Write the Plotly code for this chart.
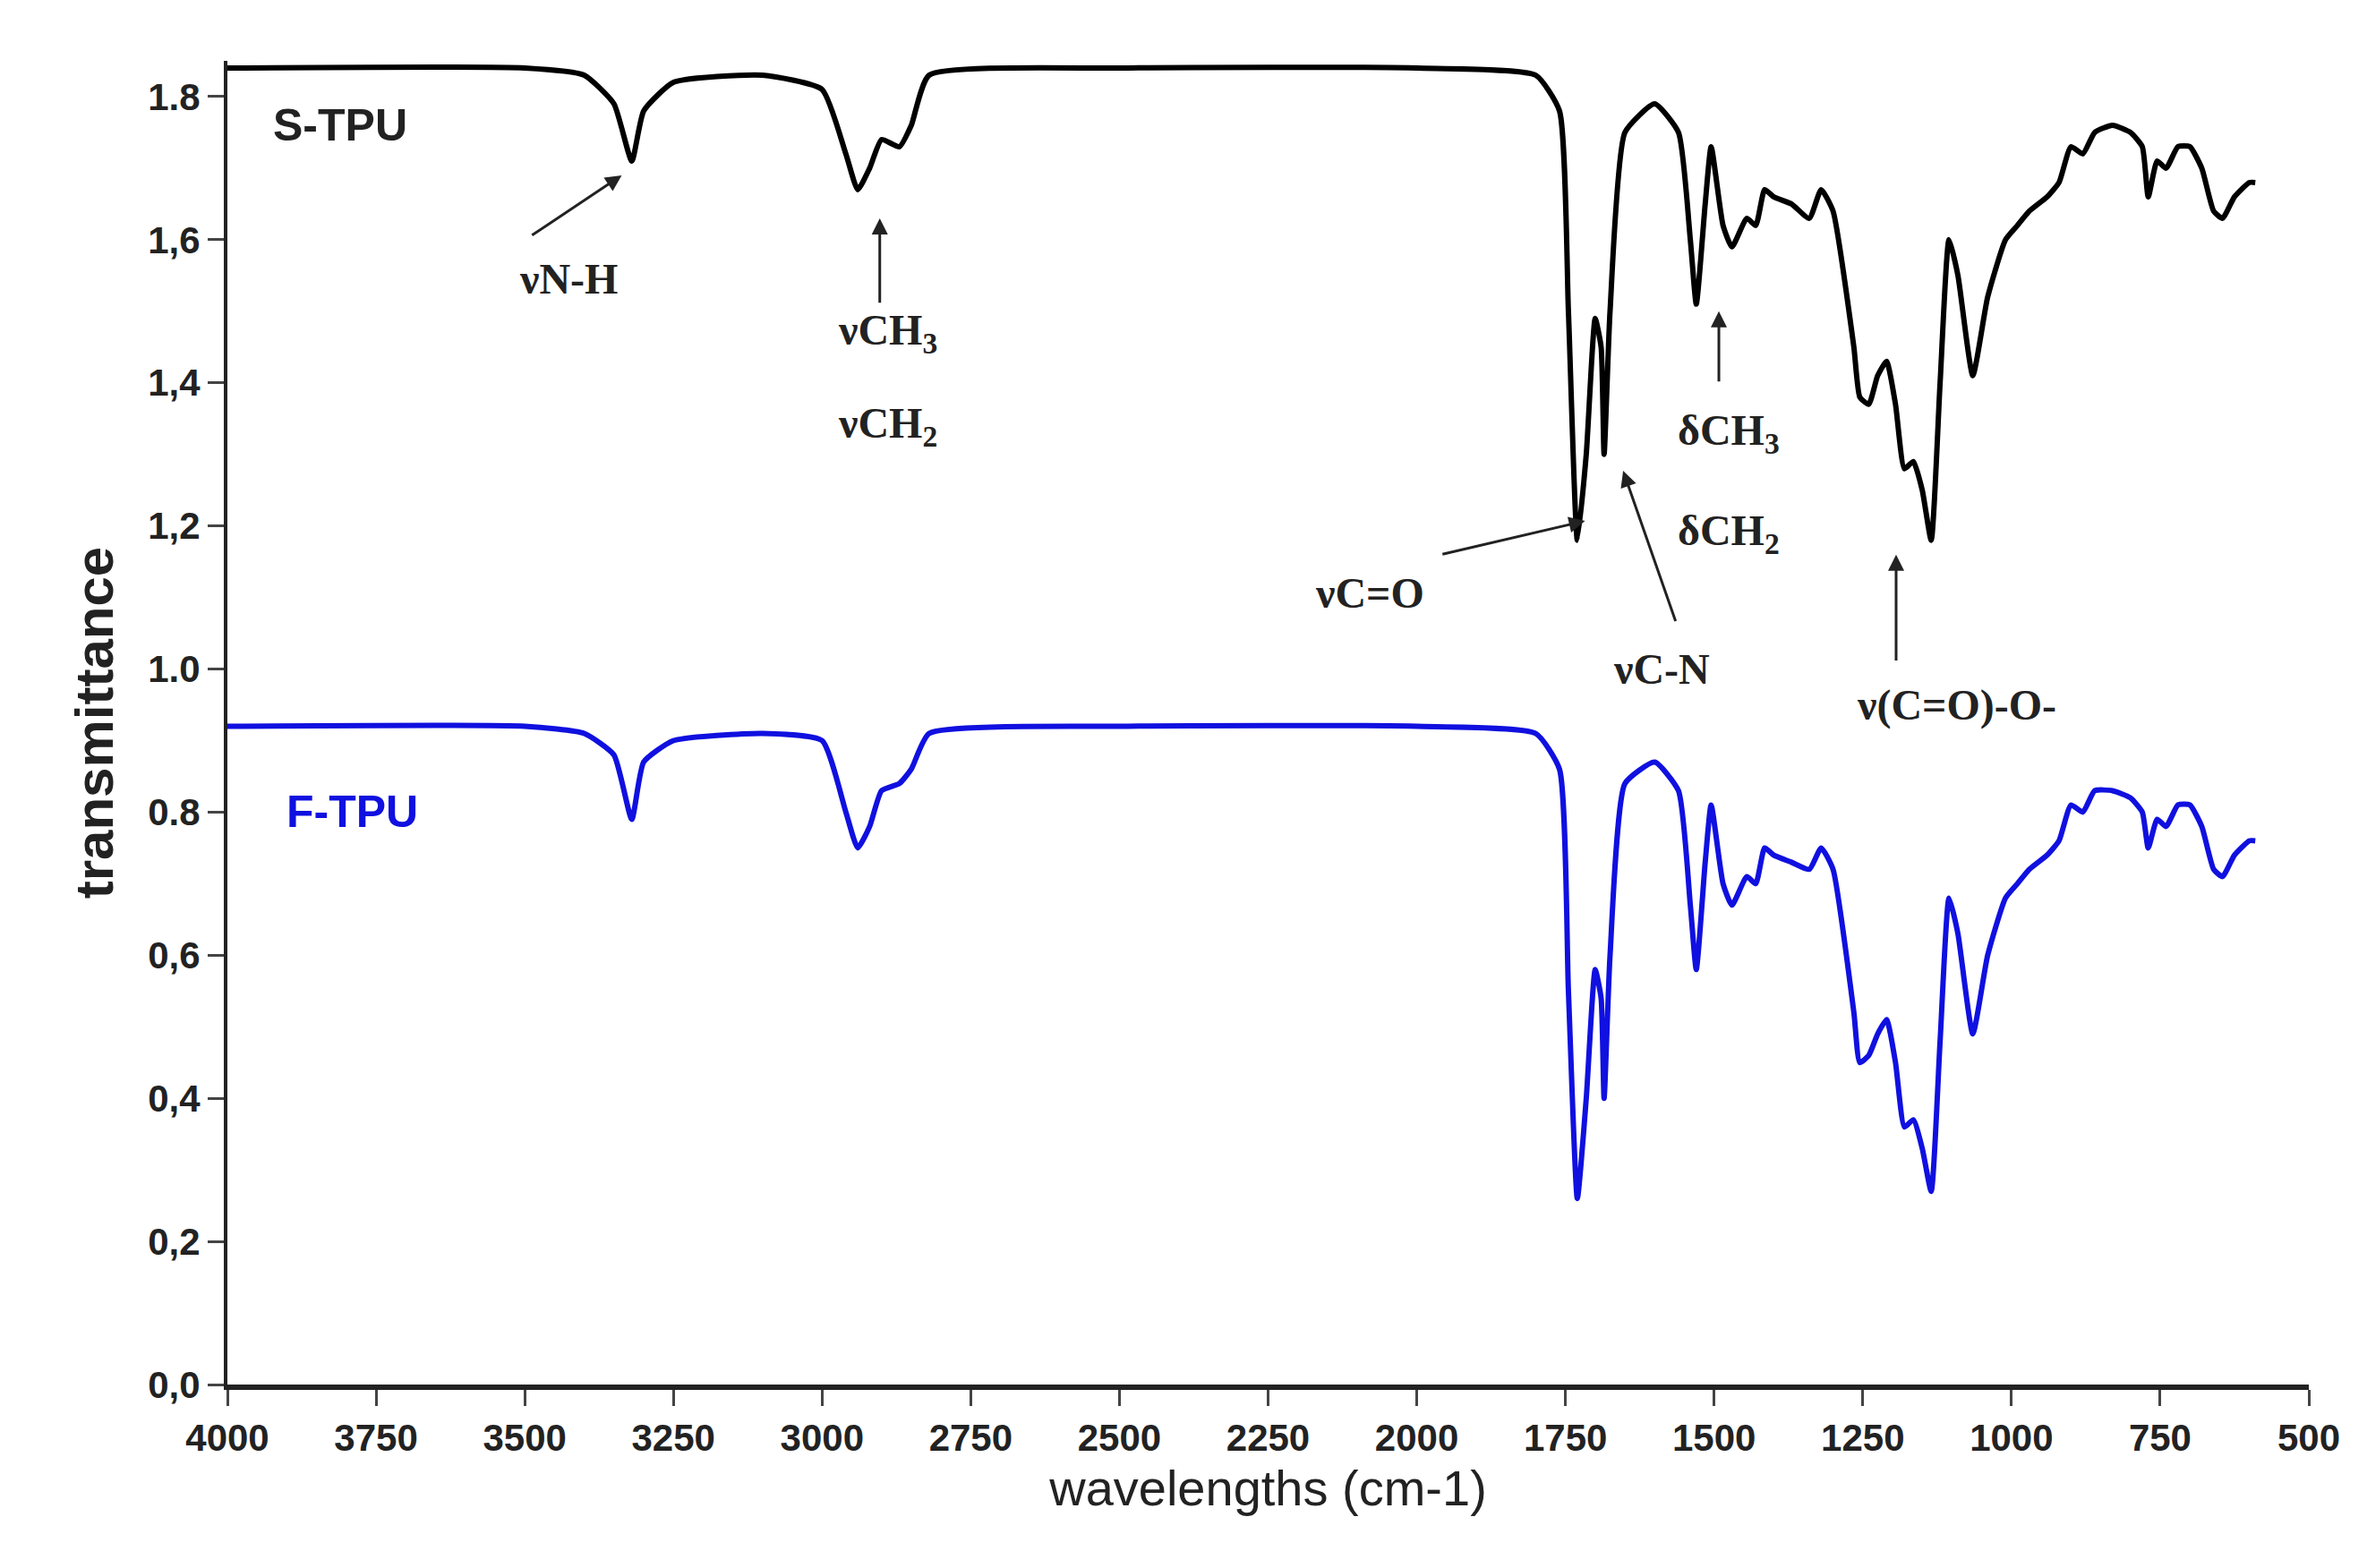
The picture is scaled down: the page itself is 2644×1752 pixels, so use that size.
import plotly.graph_objects as go

s_x = [4000,3500,3400,3350,3320,3300,3250,3100,3000,2960,2940,2920,2900,2870,2850,2820,2500,2000,1800,1760,1745,1730,1715,1700,1690,1685,1675,1650,1600,1560,1540,1530,1515,1505,1485,1470,1445,1430,1415,1400,1370,1340,1320,1300,1265,1255,1240,1225,1210,1195,1180,1165,1150,1135,1120,1105,1090,1065,1040,1010,990,970,940,920,900,880,860,830,800,780,770,755,740,720,700,680,660,645,625,600,590]
s_y = [1.84,1.84,1.83,1.79,1.71,1.78,1.82,1.83,1.81,1.72,1.67,1.70,1.74,1.73,1.76,1.83,1.84,1.84,1.83,1.78,1.50,1.18,1.30,1.49,1.45,1.30,1.50,1.75,1.79,1.75,1.60,1.51,1.65,1.73,1.62,1.59,1.63,1.62,1.67,1.66,1.65,1.63,1.67,1.64,1.45,1.38,1.37,1.41,1.43,1.37,1.28,1.29,1.25,1.18,1.40,1.60,1.55,1.41,1.52,1.60,1.62,1.64,1.66,1.68,1.73,1.72,1.75,1.76,1.75,1.73,1.66,1.71,1.70,1.73,1.73,1.70,1.64,1.63,1.66,1.68,1.68]

f_x = s_x
f_y = [0.92,0.92,0.91,0.88,0.79,0.87,0.90,0.91,0.90,0.80,0.75,0.78,0.83,0.84,0.86,0.91,0.92,0.92,0.91,0.86,0.55,0.26,0.40,0.58,0.54,0.40,0.60,0.84,0.87,0.83,0.67,0.58,0.73,0.81,0.70,0.67,0.71,0.70,0.75,0.74,0.73,0.72,0.75,0.72,0.52,0.45,0.46,0.49,0.51,0.45,0.36,0.37,0.33,0.27,0.48,0.68,0.63,0.49,0.60,0.68,0.70,0.72,0.74,0.76,0.81,0.80,0.83,0.83,0.82,0.80,0.75,0.79,0.78,0.81,0.81,0.78,0.72,0.71,0.74,0.76,0.76]

x_ticks = [4000,3750,3500,3250,3000,2750,2500,2250,2000,1750,1500,1250,1000,750,500]
y_ticks = [0.0,0.2,0.4,0.6,0.8,1.0,1.2,1.4,1.6,1.8]
y_labels = ["0,0","0,2","0,4","0,6","0.8","1.0","1,2","1,4","1,6","1.8"]

fig = go.Figure()
fig.add_trace(go.Scatter(x=s_x, y=s_y, mode="lines", line=dict(color="black", width=6, shape="spline", smoothing=0.5), name="S-TPU"))
fig.add_trace(go.Scatter(x=f_x, y=f_y, mode="lines", line=dict(color="#1010e0", width=6, shape="spline", smoothing=0.5), name="F-TPU"))

serif = dict(family="Liberation Serif", size=48, color="#222")
def lab(x, y, t):
    fig.add_annotation(x=x, y=y, text="<b>" + t + "</b>", showarrow=False, font=serif)
def arr(x0, y0, x1, y1):
    fig.add_annotation(x=x1, y=y1, ax=x0, ay=y0, axref="x", ayref="y", text="", showarrow=True,
                       arrowhead=2, arrowsize=1.2, arrowwidth=3, arrowcolor="#222")

lab(3426, 1.545, "νN-H"); arr(3490, 1.605, 3337, 1.69)
lab(2890, 1.47, "νCH<sub>3</sub>"); lab(2890, 1.34, "νCH<sub>2</sub>"); arr(2903, 1.51, 2903, 1.63)
lab(2079, 1.107, "νC=O"); arr(1959, 1.16, 1717, 1.207)
lab(1589, 1.0, "νC-N"); arr(1564, 1.065, 1653, 1.277)
lab(1475, 1.33, "δCH<sub>3</sub>"); lab(1475, 1.19, "δCH<sub>2</sub>"); arr(1492, 1.40, 1492, 1.50)
lab(1092, 0.95, "ν(C=O)-O-"); arr(1194, 1.01, 1194, 1.16)

fig.add_annotation(x=3810, y=1.76, text="<b>S-TPU</b>", showarrow=False, font=dict(family="Liberation Sans", size=50, color="#222"))
fig.add_annotation(x=3790, y=0.80, text="<b>F-TPU</b>", showarrow=False, font=dict(family="Liberation Sans", size=50, color="#1010e0"))

fig.update_layout(
    width=2644, height=1752, showlegend=False, plot_bgcolor="white", paper_bgcolor="white",
    margin=dict(l=246, r=73, t=60, b=213),
    font=dict(family="Liberation Sans", color="#222"),
    xaxis=dict(range=[4000, 500], tickvals=x_ticks, ticktext=["<b>%d</b>" % v for v in x_ticks],
               ticks="outside", ticklen=18, tickwidth=3,
               showline=True, linewidth=6, linecolor="#222", showgrid=False, zeroline=False,
               tickfont=dict(size=42, family="Liberation Sans"),
               title=dict(text="wavelengths (cm-1)", font=dict(size=56))),
    yaxis=dict(range=[0, 1.85], tickvals=y_ticks, ticktext=["<b>%s</b>" % s for s in y_labels],
               ticks="outside", ticklen=18, tickwidth=3,
               showline=True, linewidth=4, linecolor="#222", showgrid=False, zeroline=False,
               tickfont=dict(size=42, family="Liberation Sans"),
               title=dict(text="<b>transmittance</b>", font=dict(size=60), standoff=20)),
)
fig.write_html("out.html")
